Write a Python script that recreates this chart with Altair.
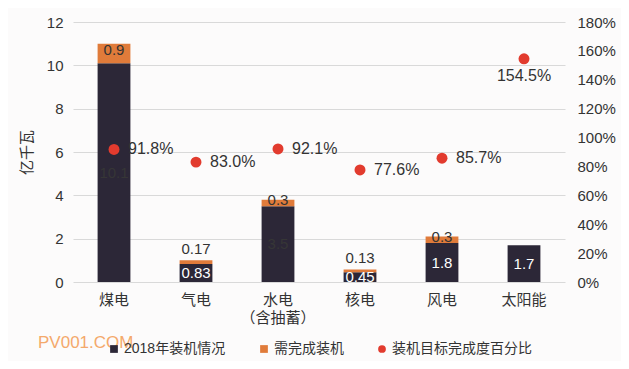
import altair as alt
import pandas as pd

categories = ["煤电", "气电", "水电|（含抽蓄）", "核电", "风电", "太阳能"]
installed_2018 = [10.1, 0.83, 3.5, 0.45, 1.8, 1.7]
remaining = [0.9, 0.17, 0.3, 0.13, 0.3, 0]
completion_pct = [91.8, 83.0, 92.1, 77.6, 85.7, 154.5]
series_names = ["2018年装机情况", "需完成装机", "装机目标完成度百分比"]
colors = ["#2c2737", "#e07b3a", "#e23b2e"]
left_ticks = [0, 2, 4, 6, 8, 10, 12]
right_ticks = [0, 20, 40, 60, 80, 100, 120, 140, 160, 180]

FONT = "Liberation Sans, Noto Sans CJK SC, sans-serif"

wide = pd.DataFrame({
    "category": categories,
    "installed": installed_2018,
    "remaining": remaining,
    "pct": completion_pct,
})

long_rows = []
for c, a, b in zip(categories, installed_2018, remaining):
    long_rows.append({"category": c, "series": series_names[0], "value": a, "ord": 0})
    long_rows.append({"category": c, "series": series_names[1], "value": b, "ord": 1})
long = pd.DataFrame(long_rows)

pct_df = pd.DataFrame({"category": categories, "pct": completion_pct,
                       "series": [series_names[2]] * len(categories)})

color_scale = alt.Scale(domain=series_names, range=colors)
shape_scale = alt.Scale(domain=series_names, range=["square", "square", "circle"])
legend = alt.Legend(title=None, orient="none", direction="horizontal",
                    legendX=34, legendY=320, labelFont=FONT, labelFontSize=14,
                    labelColor="#333333", symbolSize=60, columnPadding=31,
                    symbolOpacity=1, labelOffset=3)

x_axis = alt.Axis(labelAngle=0, labelFont=FONT, labelFontSize=15,
                  labelColor="#333333", ticks=False, domain=False,
                  labelPadding=10, labelLineHeight=18,
                  labelExpr="split(datum.label, '|')")
x_scale = alt.Scale(paddingInner=0.6, paddingOuter=0.3)


def xenc():
    return alt.X("category:N", sort=categories, title=None, scale=x_scale, axis=x_axis)


left_scale = alt.Scale(domain=[0, 12], nice=False)
right_scale = alt.Scale(domain=[0, 180], nice=False)
left_axis = alt.Axis(values=left_ticks, labelFont=FONT, labelFontSize=15,
                     labelColor="#333333", ticks=False, domain=False,
                     grid=True, gridColor="#d9d9d9", titleFont=FONT,
                     titleFontSize=15, titleFontWeight="normal",
                     titleColor="#333333", titlePadding=12, labelPadding=10)
right_axis = alt.Axis(orient="right", values=right_ticks, labelFont=FONT,
                      labelFontSize=15, labelColor="#333333", ticks=False,
                      domain=False, grid=False, labelPadding=12,
                      labelExpr="datum.value + '%'")


def yleft(field, **kw):
    return alt.Y(field, scale=left_scale, title="亿千瓦", axis=left_axis, **kw)


def yright(field):
    return alt.Y(field, scale=right_scale, title=None, axis=right_axis)


bars = alt.Chart(long).mark_bar().encode(
    x=xenc(),
    y=yleft("value:Q", stack="zero"),
    color=alt.Color("series:N", scale=color_scale, legend=legend),
    order=alt.Order("ord:Q"),
)

inst_text = alt.Chart(wide).transform_calculate(
    ymid="datum.installed / 2",
    lbl="toString(datum.installed)",
).mark_text(font=FONT, fontSize=15, baseline="middle").encode(
    x=xenc(),
    y=yleft("ymid:Q"),
    text="lbl:N",
    color=alt.condition("datum.installed >= 3", alt.value("#363636"), alt.value("#ffffff")),
)

rem_big = alt.Chart(wide).transform_filter("datum.remaining >= 0.2").transform_calculate(
    ymid="datum.installed + datum.remaining / 2",
    lbl="toString(datum.remaining)",
).mark_text(font=FONT, fontSize=15, baseline="middle", dy=-3, color="#333333").encode(
    x=xenc(),
    y=yleft("ymid:Q"),
    text="lbl:N",
)

rem_small = alt.Chart(wide).transform_filter(
    "datum.remaining > 0 && datum.remaining < 0.2").transform_calculate(
    ytop="datum.installed + datum.remaining",
    lbl="toString(datum.remaining)",
).mark_text(font=FONT, fontSize=15, baseline="bottom", dy=-3, color="#333333").encode(
    x=xenc(),
    y=yleft("ytop:Q"),
    text="lbl:N",
)

watermark = alt.Chart(pd.DataFrame({"t": ["PV001.COM"]})).mark_text(
    font=FONT, fontSize=17, align="left", baseline="middle", color="#f4a15c",
    opacity=0.9,
).encode(text="t:N", x=alt.value(-35), y=alt.value(321))

left = alt.layer(bars, inst_text, rem_big, rem_small, watermark)

points = alt.Chart(pct_df).mark_point(filled=True, size=120, opacity=1).encode(
    x=xenc(),
    y=yright("pct:Q"),
    color=alt.Color("series:N", scale=color_scale, legend=legend),
    shape=alt.Shape("series:N", scale=shape_scale, legend=legend),
)

pct_text_side = alt.Chart(wide).transform_filter("datum.pct < 150").transform_calculate(
    lbl="format(datum.pct, '.1f') + '%'",
).mark_text(font=FONT, fontSize=16, align="left", baseline="middle", dx=14,
            color="#333333").encode(
    x=xenc(),
    y=yright("pct:Q"),
    text="lbl:N",
)

pct_text_below = alt.Chart(wide).transform_filter("datum.pct >= 150").transform_calculate(
    lbl="format(datum.pct, '.1f') + '%'",
).mark_text(font=FONT, fontSize=16, align="center", baseline="middle", dy=17,
            color="#333333").encode(
    x=xenc(),
    y=yright("pct:Q"),
    text="lbl:N",
)

right = alt.layer(points, pct_text_side, pct_text_below)

chart = alt.layer(left, right).resolve_scale(y="independent").properties(
    width=492, height=260,
    autosize=alt.AutoSizeParams(type="none"),
    padding={"left": 65, "top": 14, "right": 56, "bottom": 79},
    background="#fcfbfb",
).configure_view(stroke=None)

chart.save("out.html", embed_options={"renderer": "svg", "actions": False})
